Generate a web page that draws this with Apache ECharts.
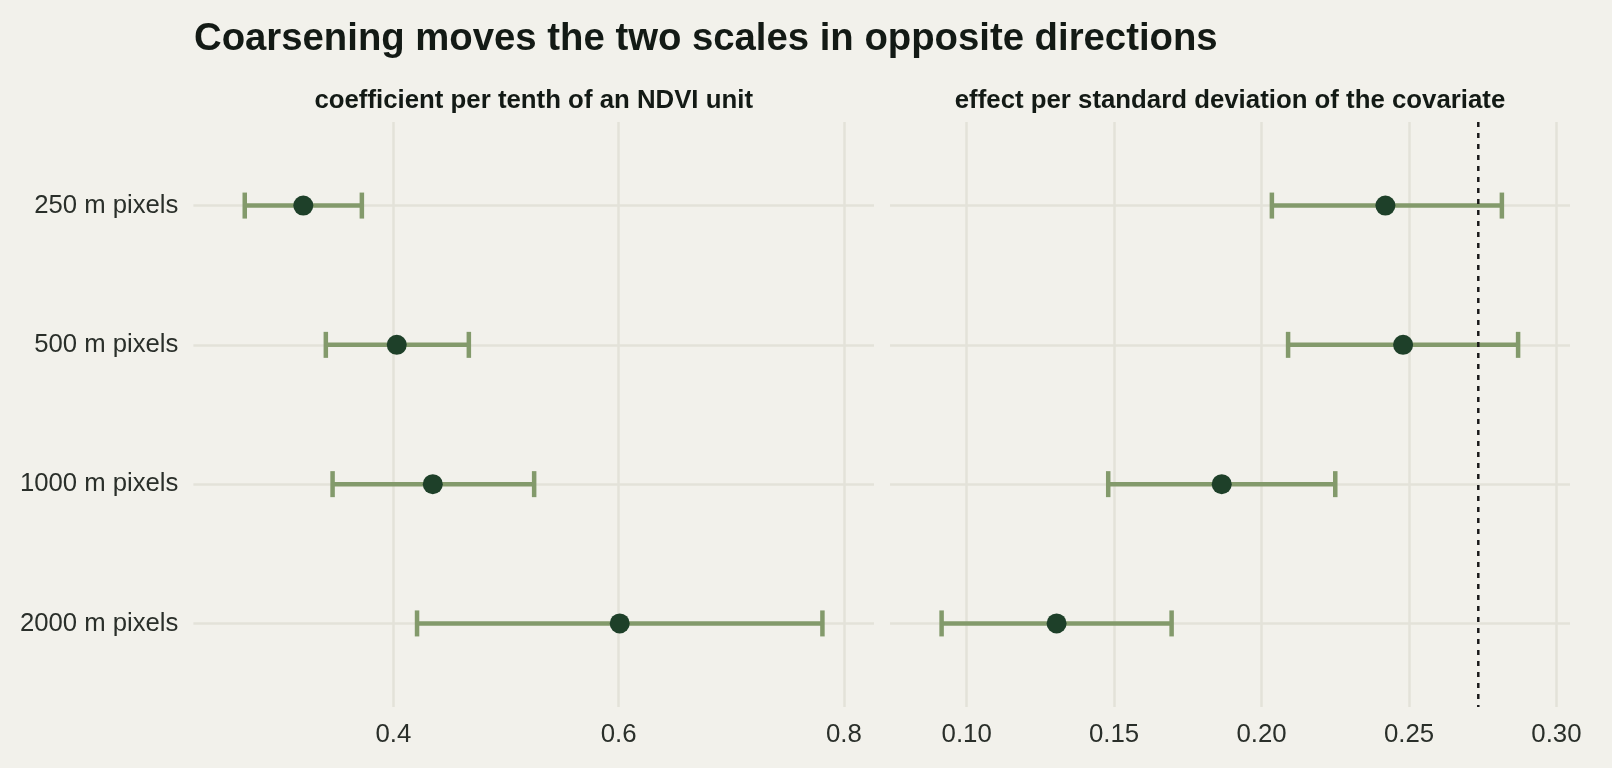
<!DOCTYPE html>
<html>
<head>
<meta charset="utf-8">
<style>
html, body { margin: 0; padding: 0; background: #f2f1eb; }
#chart { width: 1612px; height: 768px; }
</style>
<script src="https://cdn.jsdelivr.net/npm/echarts@6/dist/echarts.min.js"></script>
</head>
<body>
<div id="chart"></div>
<script>
var categories = ['250 m pixels', '500 m pixels', '1000 m pixels', '2000 m pixels'];

// left panel: coefficient per tenth of an NDVI unit
var ndviEst = [0.320, 0.403, 0.435, 0.601];
var ndviLo = [0.268, 0.340, 0.346, 0.421];
var ndviHi = [0.372, 0.467, 0.525, 0.781];

// right panel: effect per standard deviation
var sdEst = [0.242, 0.248, 0.1865, 0.1305];
var sdLo = [0.2035, 0.209, 0.148, 0.0915];
var sdHi = [0.2815, 0.287, 0.225, 0.1695];

var refLine = [0.2735];

var ticksLeft = [0.4, 0.6, 0.8];
var ticksRight = [0.10, 0.15, 0.20, 0.25, 0.30];

var font = 'Liberation Sans, Arial, Helvetica, sans-serif';
var barColor = '#839a6b';
var dotColor = '#1e4029';
var gridColor = '#e3e2d9';
var textColor = '#2a2f2a';

function barData(lo, hi) {
	var out = [];
	for (var i = 0; i < lo.length; i++) out.push([lo[i], hi[i], i + 1]);
	return out;
}
function dotData(est) {
	var out = [];
	for (var i = 0; i < est.length; i++) out.push([est[i], i + 1]);
	return out;
}

function renderBar(params, api) {
	var p0 = api.coord([api.value(0), api.value(2)]);
	var p1 = api.coord([api.value(1), api.value(2)]);
	var y = p0[1], h = 13;
	var style = { stroke: barColor, lineWidth: 4.5, fill: null };
	return {
		type: 'group',
		children: [
			{ type: 'line', shape: { x1: p0[0], y1: y, x2: p1[0], y2: y }, style: style },
			{ type: 'line', shape: { x1: p0[0], y1: y - h, x2: p0[0], y2: y + h }, style: style },
			{ type: 'line', shape: { x1: p1[0], y1: y - h, x2: p1[0], y2: y + h }, style: style }
		]
	};
}

// dotted reference line across the whole panel
function renderRef(params, api) {
	var top = api.coord([api.value(0), 0.4]);
	var bot = api.coord([api.value(0), 4.6]);
	return {
		type: 'line',
		shape: { x1: top[0], y1: top[1], x2: bot[0], y2: bot[1] },
		style: { stroke: '#1a1a1a', lineWidth: 2.5, lineDash: [5, 6], fill: null }
	};
}

function xAxisFor(idx, min, max, split, ticks, digits) {
	return {
		type: 'value', gridIndex: idx, min: min, max: max, splitNumber: split,
		axisLine: { show: false }, axisTick: { show: false },
		splitLine: { show: true, showMinLine: false, showMaxLine: false, lineStyle: { color: gridColor, width: 2.5 } },
		axisLabel: {
			show: true, margin: 15, showMinLabel: false, showMaxLabel: false,
			color: textColor, fontSize: 25.8, fontFamily: font,
			formatter: function (v) {
				for (var i = 0; i < ticks.length; i++) {
					if (Math.abs(ticks[i] - v) < 1e-6) return ticks[i].toFixed(digits);
				}
				return '';
			}
		}
	};
}

function yAxisFor(idx, showLabels) {
	return {
		type: 'value', gridIndex: idx, inverse: true, min: 0.4, max: 4.6, splitNumber: 4,
		axisLine: { show: false }, axisTick: { show: false },
		splitLine: { show: true, showMinLine: false, showMaxLine: false, lineStyle: { color: gridColor, width: 2.5 } },
		axisLabel: {
			show: showLabels, margin: 15, showMinLabel: false, showMaxLabel: false,
			color: textColor, fontSize: 25.7, fontFamily: font,
			formatter: function (v) {
				var k = Math.round(v);
				return (Math.abs(k - v) < 1e-6 && categories[k - 1]) ? categories[k - 1] : '';
			}
		}
	};
}

var myChart = echarts.init(document.getElementById('chart'));
var option = {
	backgroundColor: '#f2f1eb',
	animation: false,
	title: [{
		text: 'Coarsening moves the two scales in opposite directions',
		left: 194, top: 20, padding: 0,
		textStyle: { color: '#131a15', fontSize: 38.3, fontWeight: 'bold', fontFamily: font }
	}, {
		text: 'coefficient per tenth of an NDVI unit',
		left: 533.7, top: 88, padding: 0, textAlign: 'center',
		textStyle: { color: '#131a15', fontSize: 25.8, fontWeight: 'bold', fontFamily: font }
	}, {
		text: 'effect per standard deviation of the covariate',
		left: 1230, top: 88, padding: 0, textAlign: 'center',
		textStyle: { color: '#131a15', fontSize: 25.8, fontWeight: 'bold', fontFamily: font }
	}],
	grid: [
		{ left: 193.4, top: 122, width: 680.6, height: 585 },
		{ left: 890, top: 122, width: 680, height: 585 }
	],
	xAxis: [
		xAxisFor(0, 0.2224, 0.8268, 3, ticksLeft, 1),
		xAxisFor(1, 0.074, 0.3046, 5, ticksRight, 2)
	],
	yAxis: [yAxisFor(0, true), yAxisFor(1, false)],
	series: [{
		type: 'custom', xAxisIndex: 0, yAxisIndex: 0, z: 2,
		renderItem: renderBar, encode: { x: [0, 1], y: 2 },
		data: barData(ndviLo, ndviHi), silent: true
	}, {
		type: 'scatter', xAxisIndex: 0, yAxisIndex: 0, z: 3,
		symbolSize: 20, itemStyle: { color: dotColor, opacity: 1 },
		data: dotData(ndviEst), silent: true
	}, {
		type: 'custom', xAxisIndex: 1, yAxisIndex: 1, z: 2,
		renderItem: renderBar, encode: { x: [0, 1], y: 2 },
		data: barData(sdLo, sdHi), silent: true
	}, {
		type: 'scatter', xAxisIndex: 1, yAxisIndex: 1, z: 3,
		symbolSize: 20, itemStyle: { color: dotColor, opacity: 1 },
		data: dotData(sdEst), silent: true
	}, {
		type: 'custom', xAxisIndex: 1, yAxisIndex: 1, z: 4,
		renderItem: renderRef, encode: { x: 0 },
		data: refLine.map(function (v) { return [v]; }), silent: true, clip: false
	}]
};
myChart.setOption(option);
</script>
</body>
</html>
